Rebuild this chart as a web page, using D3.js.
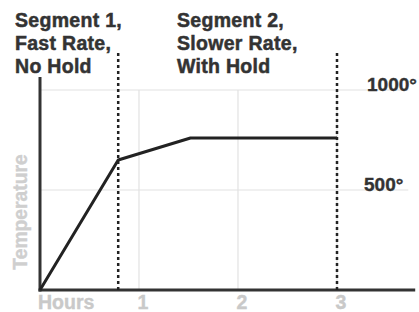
<html>
<head>
<script src="https://d3js.org/d3.v7.min.js"></script>
<style>
  body { margin: 0; background: #fff; }
  svg { font-family: "Liberation Sans", Arial, sans-serif; font-weight: bold; }
</style>
</head>
<body>
<svg id="chart"></svg>
<script>
const width = 419, height = 312;

// firing profile (hours, degrees)
const hours = [0, 0.79, 1.52, 3];
const temps = [0, 650, 760, 760];
const xTicks = [1, 2, 3];
const yTicks = [500, 1000];
const segmentEnds = [0.79, 3];
const segmentTitles = [
  ["Segment 1,", "Fast Rate,", "No Hold"],
  ["Segment 2,", "Slower Rate,", "With Hold"]
];

const svg = d3.select("#chart").attr("width", width).attr("height", height);

const x = d3.scaleLinear().domain([0, 3]).range([40, 337]);
const y = d3.scaleLinear().domain([0, 1000]).range([290, 90]);

// grid
svg.selectAll(".vgrid").data(xTicks).join("line")
  .attr("x1", d => x(d)).attr("x2", d => x(d))
  .attr("y1", y(0)).attr("y2", y(1000))
  .attr("stroke", "#e2e2e2").attr("stroke-width", 1.2);
svg.selectAll(".hgrid").data(yTicks).join("line")
  .attr("x1", x(0)).attr("x2", x(3.72))
  .attr("y1", d => y(d)).attr("y2", d => y(d))
  .attr("stroke", "#e2e2e2").attr("stroke-width", 1.2);

// axes
svg.append("line")
  .attr("x1", x(0)).attr("x2", x(0))
  .attr("y1", y(0) + 1.5).attr("y2", y(1065))
  .attr("stroke", "#333").attr("stroke-width", 3);
svg.append("line")
  .attr("x1", x(0) - 1.5).attr("x2", x(3.79))
  .attr("y1", y(0)).attr("y2", y(0))
  .attr("stroke", "#333").attr("stroke-width", 3);

// segment boundaries
svg.selectAll(".seg").data(segmentEnds).join("line")
  .attr("x1", d => x(d)).attr("x2", d => x(d))
  .attr("y1", y(0)).attr("y2", y(1190))
  .attr("stroke", "#222").attr("stroke-width", 2.5)
  .attr("stroke-dasharray", "3,3");

// profile line
const pts = hours.map((h, i) => [h, temps[i]]);
svg.append("path")
  .datum(pts)
  .attr("d", d3.line().x(d => x(d[0])).y(d => y(d[1])))
  .attr("fill", "none").attr("stroke", "#222").attr("stroke-width", 3)
  .attr("stroke-linejoin", "round");

// y labels on the right
const yLabelX = { 500: 364, 1000: 367 };
svg.selectAll(".ylab").data(yTicks).join("text")
  .attr("x", d => yLabelX[d]).attr("y", d => y(d) + 1)
  .attr("font-size", 19).attr("fill", "#333")
  .attr("stroke", "#333").attr("stroke-width", 0.4)
  .text(d => d + "°");

// x labels
svg.append("text")
  .attr("x", x(0) - 2).attr("y", 309)
  .attr("font-size", 19.5).attr("fill", "#c9c9c9")
  .attr("stroke", "#c9c9c9").attr("stroke-width", 0.4)
  .text("Hours");
svg.selectAll(".xlab").data(xTicks).join("text")
  .attr("x", d => x(d) + 4).attr("y", 309)
  .attr("text-anchor", "middle")
  .attr("font-size", 19.5).attr("fill", "#c9c9c9")
  .attr("stroke", "#c9c9c9").attr("stroke-width", 0.4)
  .text(d => d);

// y title
svg.append("text")
  .attr("transform", "translate(27,212) rotate(-90)")
  .attr("text-anchor", "middle")
  .attr("font-size", 19.3).attr("fill", "#cfcfcf")
  .attr("stroke", "#cfcfcf").attr("stroke-width", 0.4)
  .text("Temperature");

// segment titles
const titleX = [15, 177];
segmentTitles.forEach((lines, i) => {
  svg.append("text")
    .attr("font-size", 19.5).attr("fill", "#333")
    .attr("stroke", "#333").attr("stroke-width", 0.5)
    .attr("letter-spacing", 0.3)
    .selectAll("tspan").data(lines).join("tspan")
    .attr("x", titleX[i]).attr("y", (d, j) => 27 + j * 23)
    .text(d => d);
});
</script>
</body>
</html>
